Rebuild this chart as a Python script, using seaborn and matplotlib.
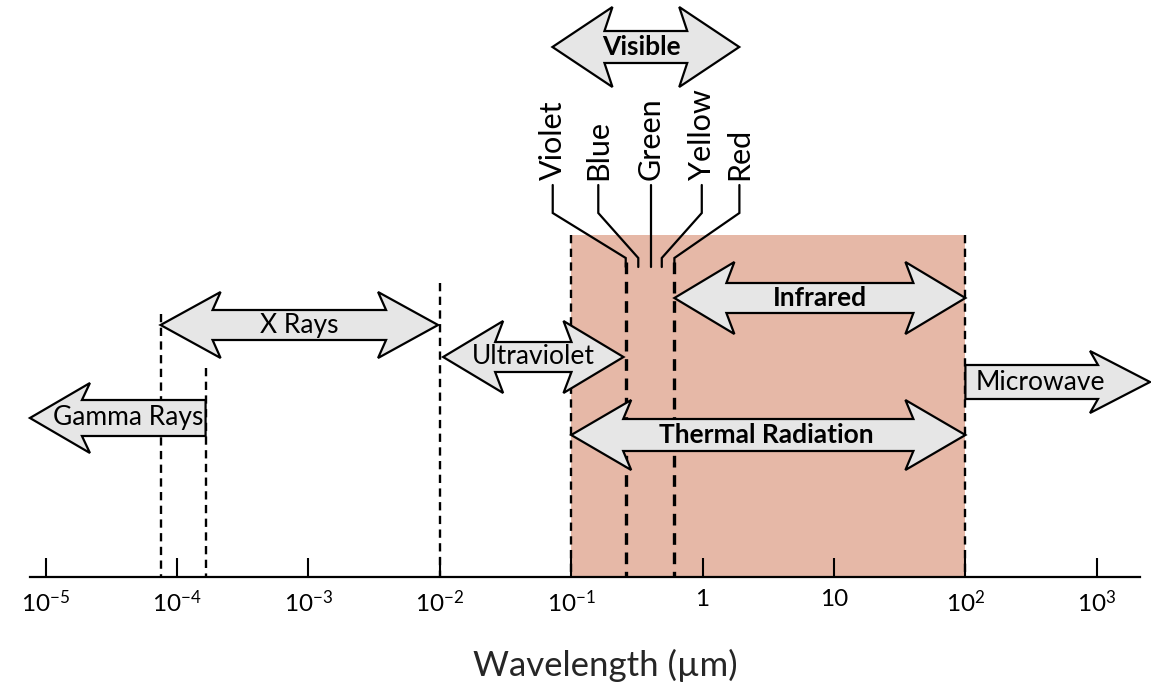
import seaborn as sns
import matplotlib.pyplot as plt
from matplotlib.patches import Polygon
from matplotlib.ticker import NullLocator

##########
# Data (wavelengths in micrometres) #
##########

band_names = ["Gamma Rays", "X Rays", "Ultraviolet", "Visible",
              "Infrared", "Thermal Radiation", "Microwave"]
band_start = [7.6e-6, 7.5e-5, 0.0106, 0.072, 0.61, 0.1, 100]
band_end = [1.65e-4, 0.0097, 0.25, 1.9, 100, 100, 2540]
band_heads = ["left", "both", "both", "both", "both", "both", "right"]
band_bold = [False, False, False, True, True, True, False]

# region boundaries drawn as dashed lines
edge_wl = [7.5e-5, 1.65e-4, 0.01, 0.1, 0.26, 0.61, 100]

colour_names = ["Violet", "Blue", "Green", "Yellow", "Red"]
colour_wl = [0.26, 0.324, 0.403, 0.489, 0.61]

thermal_span = [0.1, 100]

tick_wl = [1e-5, 1e-4, 1e-3, 1e-2, 1e-1, 1, 10, 1e2, 1e3]
tick_labels = ["10$^{-5}$", "10$^{-4}$", "10$^{-3}$", "10$^{-2}$", "10$^{-1}$",
               "1", "10", "10$^{2}$", "10$^{3}$"]

##########
# Layout (pixel rows from the top of the picture) #
##########

band_row = [418, 325, 357, 47, 298, 435, 382]
band_hh = [35, 33, 36, 40, 36, 35, 31]   # half height of the heads
band_hb = [18, 15, 15, 16, 15, 16, 17]   # half height of the shaft
text_dx = [10, 0, 0, -4, 0, -2, -17]
edge_top = [314, 368, 283, 235, 262, 262, 235]
edge_lw = [1.7, 1.7, 1.7, 1.7, 2.4, 2.4, 1.7]
label_dx = [-73, -40, 0, 40, 65]
AXIS_ROW = 577

sns.set_theme(style="white")
plt.rcParams["font.family"] = ["Lato", "DejaVu Sans"]
plt.rcParams["mathtext.fontset"] = "custom"
plt.rcParams["mathtext.rm"] = "Lato"
plt.rcParams["mathtext.default"] = "regular"
plt.rcParams["text.color"] = "black"
plt.rcParams["xtick.color"] = "black"

W, H = 1151, 687
fig = plt.figure(figsize=(W / 100, H / 100), dpi=100)
fig.patch.set_facecolor("white")
ax = fig.add_axes([30 / W, (H - AXIS_ROW) / H, 1110 / W, AXIS_ROW / H])
ax.set_facecolor("none")
ax.set_xscale("log")
ax.set_xlim(10 ** (-1 + (30 - 571.2) / 131.4), 10 ** (-1 + (1140 - 571.2) / 131.4))
ax.set_ylim(AXIS_ROW, 0)


def to_px(x, y):
    return ax.transData.transform((x, y))


def from_px(px, py):
    return ax.transData.inverted().transform((px, py))


def block_arrow(x0, x1, row, hh, hb, heads, barb=60, neck=52):
    (p0, yc), (p1, _) = to_px(x0, row), to_px(x1, row)
    if heads in ("left", "both"):
        left_top = [(p0, yc), (p0 + barb, yc + hh), (p0 + neck, yc + hb)]
        left_bot = [(p0 + neck, yc - hb), (p0 + barb, yc - hh)]
    else:
        left_top = [(p0, yc + hb)]
        left_bot = [(p0, yc - hb)]
    if heads in ("right", "both"):
        right = [(p1 - neck, yc + hb), (p1 - barb, yc + hh), (p1, yc),
                 (p1 - barb, yc - hh), (p1 - neck, yc - hb)]
    else:
        right = [(p1, yc + hb), (p1, yc - hb)]
    pts = [from_px(*p) for p in left_top + right + left_bot]
    ax.add_patch(Polygon(pts, closed=True, facecolor="#e6e6e6", edgecolor="black",
                         linewidth=1.6, joinstyle="miter", zorder=3, clip_on=False))
    return (p0 + p1) / 2, yc


# thermal radiation band
ax.fill_between(thermal_span, 235, AXIS_ROW, color="#e6b8a7", linewidth=0, zorder=0)

# dashed boundaries
ax.vlines(edge_wl, edge_top, AXIS_ROW, colors="black", linestyles=(0, (3.5, 2.3)),
          linewidths=edge_lw, zorder=2)

# arrows
for i, name in enumerate(band_names):
    cx, cy = block_arrow(band_start[i], band_end[i], band_row[i], band_hh[i], band_hb[i],
                         band_heads[i])
    tx, ty = from_px(cx + text_dx[i], cy)
    ax.text(tx, ty, name, ha="center", va="center", fontsize=19,
            fontweight="bold" if band_bold[i] else "normal", zorder=4, clip_on=False)

# visible colour labels with leader lines
for name, wl, dx in zip(colour_names, colour_wl, label_dx):
    cpx, _ = to_px(wl, 0)
    lx = from_px(cpx + dx, 0)[0]
    ax.plot([lx, lx, wl, wl], [185, 213, 258, 267], color="black", lw=1.6,
            solid_joinstyle="miter", zorder=3)
    ax.text(lx, 180, name, rotation=90, ha="center", va="bottom", fontsize=22)

# axis
ax.set_xticks(tick_wl, tick_labels)
ax.xaxis.set_minor_locator(NullLocator())
ax.set_yticks([])
ax.tick_params(axis="x", direction="in", length=14, width=1.5, labelsize=17.5, pad=9,
               bottom=True)
sns.despine(ax=ax, left=True)
ax.spines["bottom"].set_linewidth(1.6)
ax.spines["bottom"].set_color("black")
ax.set_xlabel("Wavelength (µm)", fontsize=25)
ax.xaxis.set_label_coords((605 - 30) / 1110, -(665 - AXIS_ROW) / AXIS_ROW)
ax.xaxis.label.set_va("center")

fig.savefig("out.png", dpi=100)
